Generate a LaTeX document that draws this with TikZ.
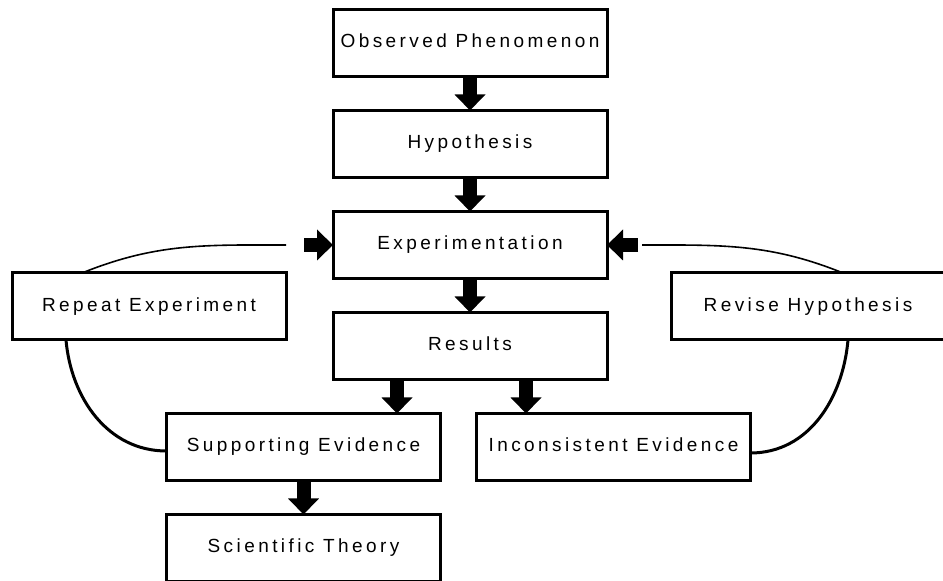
\documentclass[tikz,border=0pt]{standalone}
\usepackage{fontspec}
\newfontfamily\boxfont[LetterSpace=18]{Liberation Sans}
\usetikzlibrary{positioning,arrows.meta}

\begin{document}
\begin{tikzpicture}[x=1pt,y=1pt,
		stepbox/.style={rectangle,draw=black,line width=3pt,outer sep=0pt,
			minimum width=274pt,minimum height=67pt,text height=14pt,text depth=4pt,
			font=\boxfont\fontsize{19}{22}\selectfont},
		blockarrow/.style={line width=14pt,-{Triangle[width=30pt,length=16pt]}},
		loopline/.style={line width=3pt},
		backline/.style={line width=1.6pt}]
		\useasboundingbox (0,0) rectangle (943,581);
		\node[stepbox] (obs) at (470,538) {Observed Phenomenon};
		\node[stepbox] (hyp) [below = 34pt of obs] {Hypothesis};
		\node[stepbox] (exp) [below = 34pt of hyp] {Experimentation};
		\node[stepbox] (res) [below = 34pt of exp] {Results};
		\node[stepbox] (sup) [below = 34pt of res, xshift=-166.5pt] {Supporting Evidence};
		\node[stepbox] (inc) [right = 36pt of sup] {Inconsistent Evidence};
		\node[stepbox] (sci) [below = 34pt of sup] {Scientific Theory};
		\node[stepbox] (rep) at (149,274.5) {Repeat Experiment};
		\node[stepbox] (rev) at (808,274.5) {Revise Hypothesis};
		\draw[blockarrow] (obs.south) -- (hyp.north);
		\draw[blockarrow] (hyp.south) -- (exp.north);
		\draw[blockarrow] (exp.south) -- (res.north);
		\draw[blockarrow] ([xshift=-73pt]res.south) -- ([xshift=-73pt]res.south |- sup.north);
		\draw[blockarrow] ([xshift=56pt]res.south) -- ([xshift=56pt]res.south |- inc.north);
		\draw[blockarrow] (sup.south) -- (sci.north);
		% loops back to experimentation
		\coordinate (lgap) at ([xshift=-47pt]exp.west);
		\coordinate (rgap) at ([xshift=35pt]exp.east);
		\draw[blockarrow] ([xshift=-29pt]exp.west) -- (exp.west);
		\draw[blockarrow] ([xshift=31pt]exp.east) -- (exp.east);
		\draw[backline] ([xshift=-67pt]rep.north) to[out=22,in=180] (lgap);
		\draw[backline] ([xshift=35pt]rev.north) to[out=158,in=0] (rgap);
		\draw[loopline] ([xshift=-83pt]rep.south) to[out=-85,in=180] ([yshift=-4pt]sup.west);
		\draw[loopline] ([xshift=40pt]rev.south) to[out=-95,in=0] ([yshift=-6pt]inc.east);
	\end{tikzpicture}
\end{document}
